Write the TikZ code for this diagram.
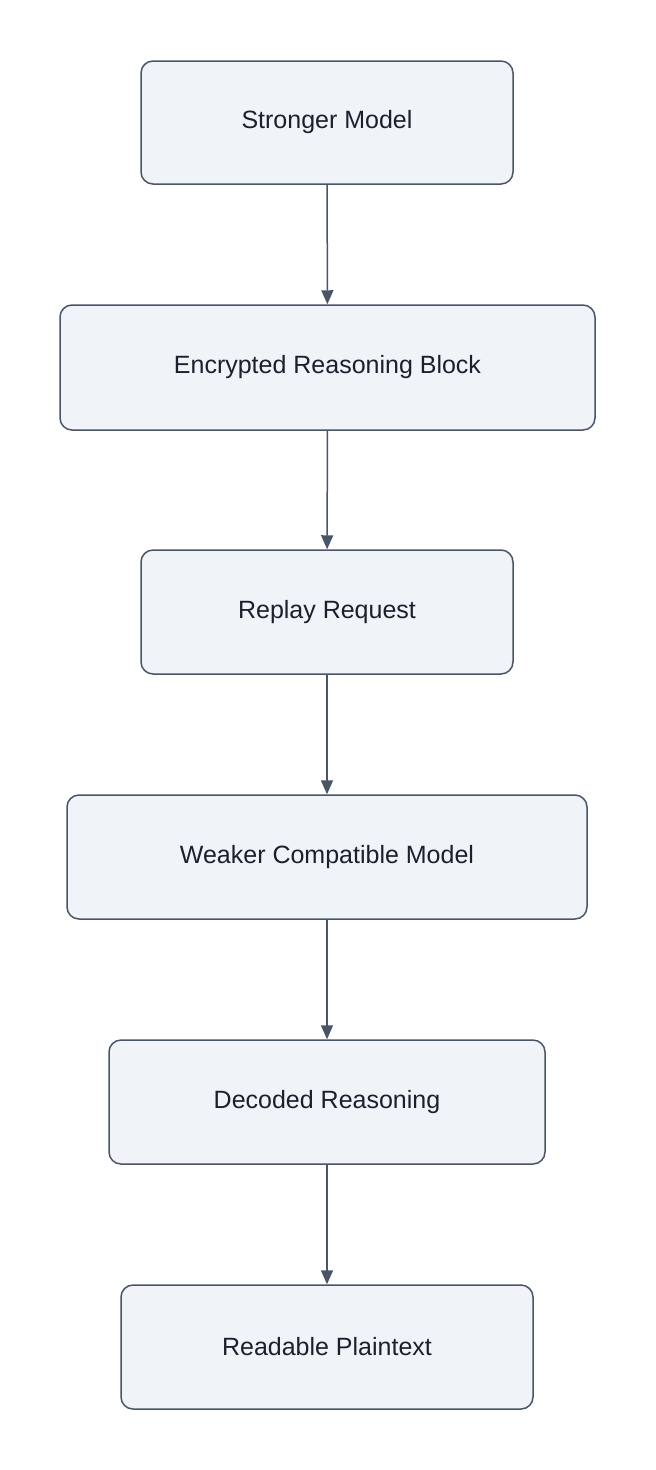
\documentclass[tikz,border=0pt]{standalone}
\usepackage{fontspec}
\setmainfont{Liberation Sans}
\usetikzlibrary{arrows.meta}
\definecolor{boxfill}{HTML}{F0F3F8}
\definecolor{boxline}{HTML}{4A5568}
\definecolor{txt}{HTML}{1A202C}
\begin{document}
\begin{tikzpicture}[x=1pt,y=-1pt,
  box/.style={draw=boxline,fill=boxfill,line width=1.5pt,rounded corners=12pt,text=txt,font=\fontsize{25}{30}\selectfont,inner sep=0pt},
  arr/.style={draw=boxline,line width=1.5pt,-{Triangle[length=14pt,width=12pt]}}]
\useasboundingbox (0,0) rectangle (656,1470);
\node[box,minimum width=372pt,minimum height=123pt] (a) at (327,122.5) {Stronger Model};
\node[box,minimum width=535pt,minimum height=125pt] (b) at (327.5,367.5) {Encrypted Reasoning Block};
\node[box,minimum width=372pt,minimum height=124pt] (c) at (327,612) {Replay Request};
\node[box,minimum width=520pt,minimum height=124pt] (d) at (327,857) {Weaker Compatible Model};
\node[box,minimum width=436pt,minimum height=124pt] (e) at (327,1102) {Decoded Reasoning};
\node[box,minimum width=412pt,minimum height=124pt] (f) at (327,1347) {Readable Plaintext};
\draw[arr] (a) -- (b);
\draw[arr] (b) -- (c);
\draw[arr] (c) -- (d);
\draw[arr] (d) -- (e);
\draw[arr] (e) -- (f);
\end{tikzpicture}
\end{document}
